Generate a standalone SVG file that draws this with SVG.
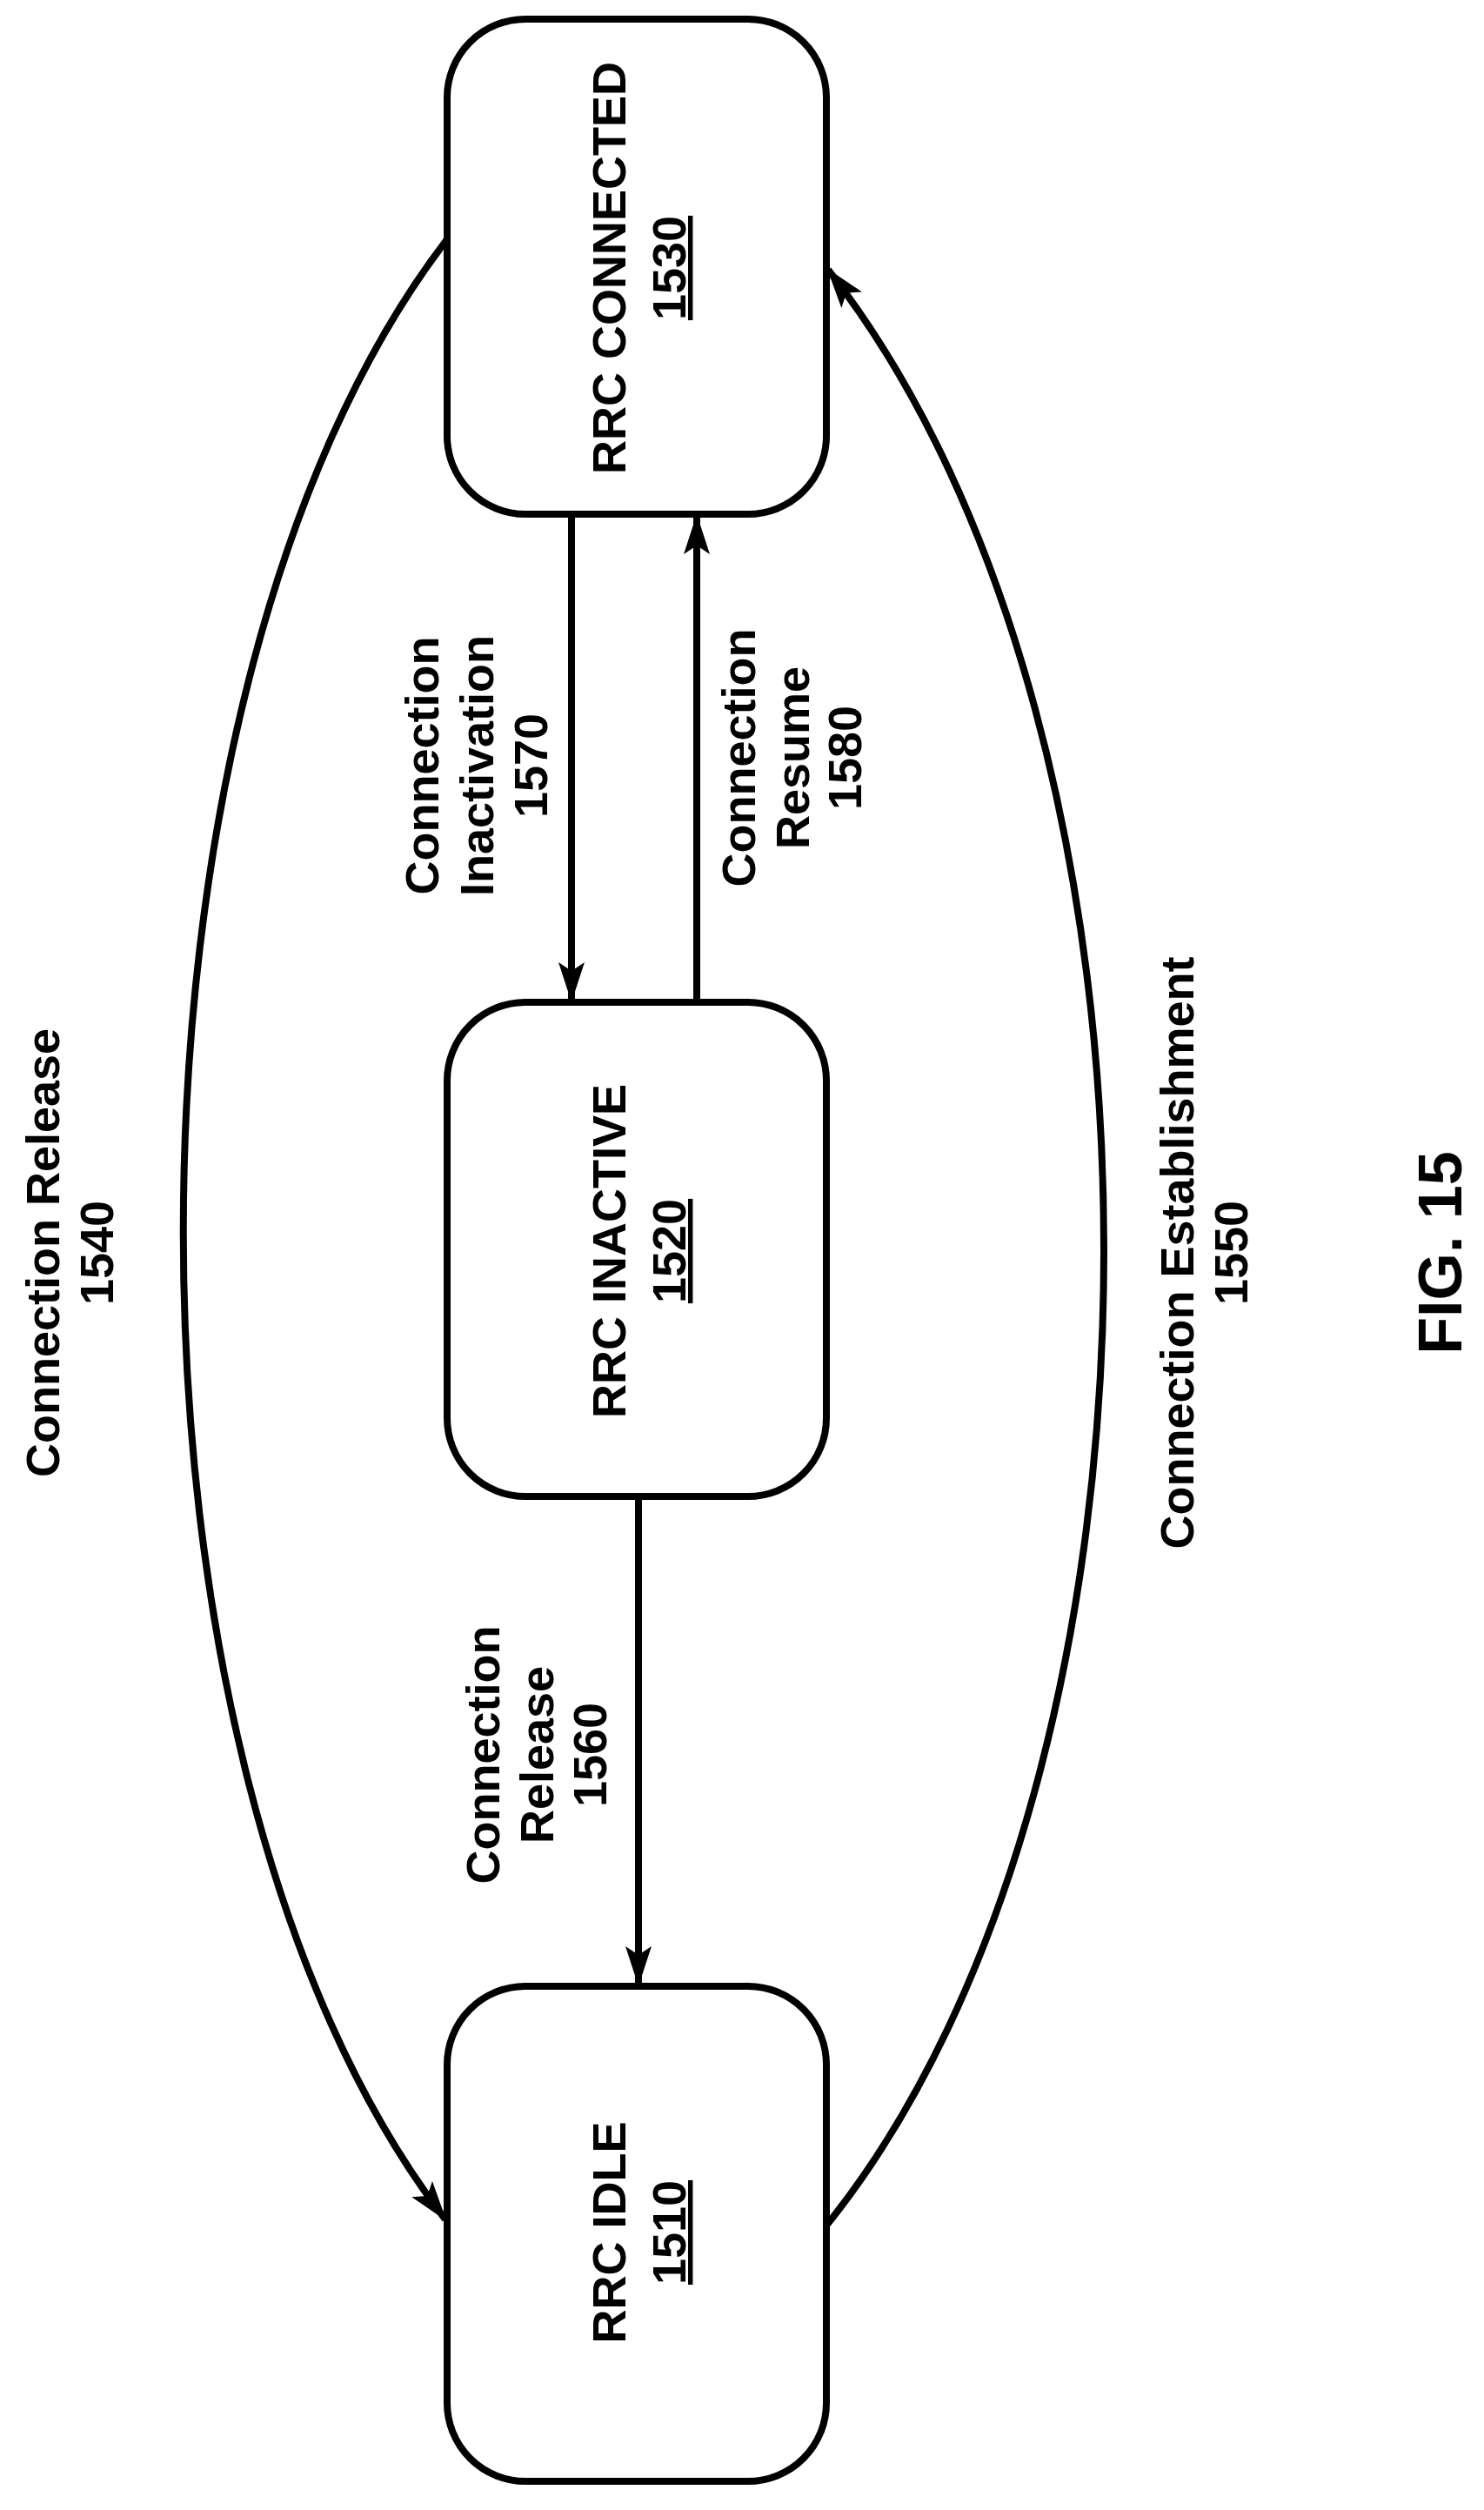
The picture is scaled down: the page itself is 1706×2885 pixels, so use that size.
<svg xmlns="http://www.w3.org/2000/svg" width="1706" height="2885" viewBox="0 0 1706 2885">
<style>
.box{fill:#fff;stroke:#000;stroke-width:8}
.t{font-family:"Liberation Sans",Arial,sans-serif;font-weight:bold;font-size:54px;fill:#000;text-anchor:middle}
.c{fill:none;stroke:#000;stroke-width:8}
</style>
<defs>
<marker id="a" markerUnits="userSpaceOnUse" markerWidth="50" markerHeight="50" viewBox="0 0 50 50" refX="44" refY="25" orient="auto">
<path d="M0,10 L46,25 L0,40 L10,25 Z" fill="#000"/>
</marker>
</defs>
<rect width="1706" height="2885" fill="#fff"/>
<g id="connectors">
<line class="c" x1="657" y1="591" x2="657" y2="1150" marker-end="url(#a)"/>
<line class="c" x1="801" y1="1152" x2="801" y2="593" marker-end="url(#a)"/>
<line class="c" x1="734" y1="1720" x2="734" y2="2281" marker-end="url(#a)"/>
<path class="c" d="M514,275 C110,800 110,2030 512,2551" marker-end="url(#a)"/>
<path class="c" d="M950,2558 C1375,2030 1375,850 952,310" marker-end="url(#a)"/>
</g>
<g id="n1530">
<rect class="box" x="514" y="22" width="436" height="569" rx="90"/>
<text class="t" transform="translate(719,308) rotate(-90)">RRC CONNECTED</text>
<text class="t" text-decoration="underline" transform="translate(788,308) rotate(-90)">1530</text>
</g>
<g id="n1520">
<rect class="box" x="514" y="1152" width="436" height="568" rx="90"/>
<text class="t" transform="translate(719,1438) rotate(-90)">RRC INACTIVE</text>
<text class="t" text-decoration="underline" transform="translate(788,1438) rotate(-90)">1520</text>
</g>
<g id="n1510">
<rect class="box" x="514" y="2283" width="436" height="569" rx="90"/>
<text class="t" transform="translate(719,2566) rotate(-90)">RRC IDLE</text>
<text class="t" text-decoration="underline" transform="translate(788,2566) rotate(-90)">1510</text>
</g>
<g id="labels">
<text class="t" transform="translate(504,880) rotate(-90)">Connection</text>
<text class="t" transform="translate(567,880) rotate(-90)">Inactivation</text>
<text class="t" transform="translate(629,880) rotate(-90)">1570</text>
<text class="t" transform="translate(868,871) rotate(-90)">Connection</text>
<text class="t" transform="translate(930,871) rotate(-90)">Resume</text>
<text class="t" transform="translate(990,871) rotate(-90)">1580</text>
<text class="t" transform="translate(574,2017) rotate(-90)">Connection</text>
<text class="t" transform="translate(636,2017) rotate(-90)">Release</text>
<text class="t" transform="translate(697,2017) rotate(-90)">1560</text>
<text class="t" transform="translate(68,1440) rotate(-90)">Connection Release</text>
<text class="t" transform="translate(130,1440) rotate(-90)">1540</text>
<text class="t" transform="translate(1372,1440) rotate(-90)">Connection Establishment</text>
<text class="t" transform="translate(1434,1440) rotate(-90)">1550</text>
<text class="t" style="font-size:70px" transform="translate(1680,1440) rotate(-90)">FIG. 15</text>
</g>
</svg>
